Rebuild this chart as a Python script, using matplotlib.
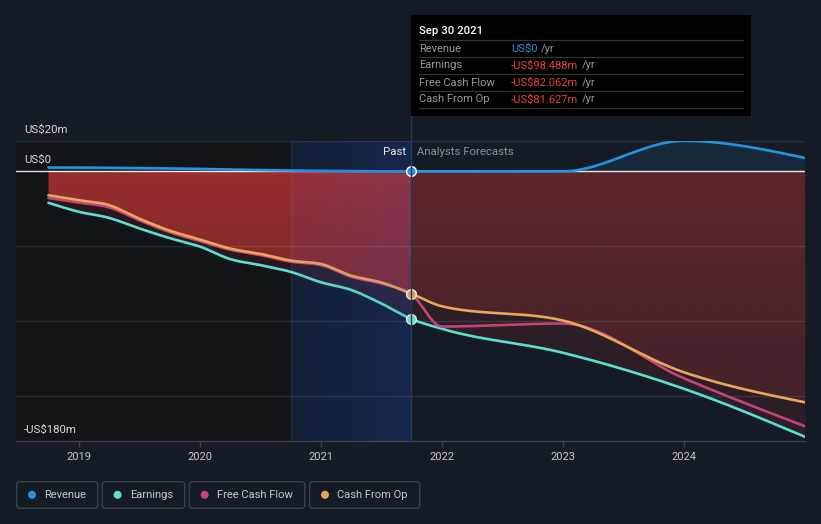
import numpy as np
import pandas as pd
import matplotlib
matplotlib.use("Agg")
import matplotlib.pyplot as plt
from matplotlib.patches import Rectangle, FancyBboxPatch, Circle
from matplotlib.lines import Line2D
import matplotlib.transforms as mtransforms

plt.rcParams['font.family'] = ['Roboto', 'DejaVu Sans']

# ---------------- data ----------------
past_dates = ["2018-09-30", "2018-12-31", "2019-03-31", "2019-06-30", "2019-09-30",
              "2019-12-31", "2020-03-31", "2020-06-30", "2020-09-30", "2020-12-31",
              "2021-03-31", "2021-06-30", "2021-09-30"]
fc_dates = ["2021-12-31", "2022-12-31", "2023-12-31", "2024-12-31"]

revenue_past = [2.5, 2.5, 2.3, 2.1, 1.9, 1.6, 1.2, 0.8, 0.5, 0.3, 0.1, 0.0, 0.0]
earnings_past = [-21.0, -27.0, -31.0, -38.0, -44.5, -50.2, -58.5, -62.5, -67.0, -74.0, -79.0, -88.0, -98.488]
fcf_past = [-17.8, -20.9, -24.0, -32.5, -40.5, -46.5, -52.2, -55.8, -60.2, -62.5, -70.2, -74.8, -82.062]
cfo_past = [-16.0, -19.3, -22.5, -31.5, -39.5, -45.5, -51.5, -55.0, -59.5, -61.8, -69.5, -74.0, -81.627]

revenue_fc = [0.0, 0.0, 20.3, 8.9]
earnings_fc = [-105.0, -121.0, -145.0, -177.0]
fcf_fc = [-103.5, -101.5, -138.0, -170.0]
cfo_fc = [-90.0, -99.5, -134.0, -154.0]

year_ticks = [2019, 2020, 2021, 2022, 2023, 2024]
y_labels = [(20, "US$20m"), (0, "US$0"), (-180, "-US$180m")]

tooltip_title = "Sep 30 2021"
tooltip_rows = [("Revenue", "US$0", "#2394df"),
                ("Earnings", "-US$98.488m", "#e8403f"),
                ("Free Cash Flow", "-US$82.062m", "#e8403f"),
                ("Cash From Op", "-US$81.627m", "#e8403f")]
legend_names = ["Revenue", "Earnings", "Free Cash Flow", "Cash From Op"]

# ---------------- helpers ----------------
def dec_year(ds):
    d = pd.to_datetime(ds)
    start = pd.to_datetime(d.year.astype(str) + "-01-01")
    days = np.where(d.is_leap_year, 366.0, 365.0)
    return np.asarray(d.year + (d - start).days / days, dtype=float)

def monotone(x, y, n=40):
    """d3 curveMonotoneX style rendering of the given points."""
    x = np.asarray(x, float); y = np.asarray(y, float)
    k = len(x)
    h = np.diff(x); s = np.diff(y) / h
    t = np.zeros(k)
    for i in range(1, k - 1):
        p = (s[i - 1] * h[i] + s[i] * h[i - 1]) / (h[i - 1] + h[i])
        t[i] = (np.sign(s[i - 1]) + np.sign(s[i])) * min(abs(s[i - 1]), abs(s[i]), 0.5 * abs(p))
    t[0] = (3 * s[0] - t[1]) / 2 if k > 2 else s[0]
    t[-1] = (3 * s[-1] - t[-2]) / 2 if k > 2 else s[-1]
    xs, ys = [], []
    for i in range(k - 1):
        u = np.linspace(0, 1, n, endpoint=(i == k - 2))
        h00 = 2 * u**3 - 3 * u**2 + 1
        h10 = u**3 - 2 * u**2 + u
        h01 = -2 * u**3 + 3 * u**2
        h11 = u**3 - u**2
        xs.append(x[i] + u * h[i])
        ys.append(h00 * y[i] + h10 * h[i] * t[i] + h01 * y[i + 1] + h11 * h[i] * t[i + 1])
    return np.concatenate(xs), np.concatenate(ys)

tp = dec_year(past_dates)
tf = dec_year(fc_dates)
t_all = np.concatenate([tp, tf])
t_now = tp[-1]

xr, rev_s = monotone(t_all, revenue_past + revenue_fc)
xe, earn_s = monotone(t_all, earnings_past + earnings_fc)
xf, fcf_s = monotone(t_all, fcf_past + fcf_fc)
xc, cfo_s = monotone(t_all, cfo_past + cfo_fc)

# ---------------- figure ----------------
BG = "#151b24"
DARK = "#111418"
REV = "#2394df"
EARN = "#5be0cd"
FCF = "#c6427f"
CFO = "#e9a857"

fig = plt.figure(figsize=(8.21, 5.24), dpi=100, facecolor=BG)
W, H = 821.0, 524.0
ax_l, ax_r, ax_t, ax_b = 16, 805, 141.3, 441.3
ax = fig.add_axes([ax_l / W, (H - ax_b) / H, (ax_r - ax_l) / W, (ax_b - ax_t) / H])
ax.set_facecolor(BG)
x0 = 2019 - (79.3 - ax_l) / 121.0
x1 = 2019 + (ax_r - 79.3) / 121.0

# background regions
hl_start = tp[8]
ax.axvspan(x0, hl_start, color=DARK, zorder=0.1, lw=0)
hl_img = np.zeros((2, 200, 4))
hl_img[..., 0] = 12 / 255; hl_img[..., 1] = 40 / 255; hl_img[..., 2] = 92 / 255
hl_img[..., 3] = np.linspace(0.25, 0.5, 200)[None, :]
ax.imshow(hl_img, extent=[hl_start, t_now, -180, 20], aspect='auto', zorder=0.2,
          interpolation='bilinear')

# dark fill between 0 and earnings
ax.fill_between(xe, 0, earn_s, color=(230 / 255, 60 / 255, 60 / 255), alpha=0.11, lw=0, zorder=1)

# red gradient fill between 0 and CFO
nx, ny = 600, 300
gx = np.linspace(x0, x1, nx)
gy = np.linspace(20, -180, ny)
GX, GY = np.meshgrid(gx, gy)
alpha = np.where(GX <= t_now, 0.6 + 0.002 * GY, 0.27 + 0.0009 * GY)
alpha = np.clip(alpha, 0.05, 1)
img = np.zeros((ny, nx, 4))
img[..., 0] = 230 / 255; img[..., 1] = 60 / 255; img[..., 2] = 60 / 255
img[..., 3] = alpha
poly = ax.fill_between(xc, 0, cfo_s, facecolor='none', edgecolor='none')
im = ax.imshow(img, extent=[x0, x1, -180, 20], aspect='auto', zorder=1.2, interpolation='bilinear')
im.set_clip_path(poly.get_paths()[0], ax.transData)

# revenue positive fill
ax.fill_between(xr, 0, rev_s, where=rev_s > 0, color=REV, alpha=0.12, lw=0, zorder=1.3)

# grid lines
for g in [20, -50, -100, -150]:
    ax.axhline(g, color="white", alpha=0.1, lw=1, zorder=1.5)
ax.axhline(0, color="white", alpha=0.9, lw=1, zorder=1.6)

# lines
lw = 1.9
ax.plot(xe, earn_s, color=EARN, lw=lw, zorder=3, solid_capstyle='round')
ax.plot(xc, cfo_s, color=CFO, lw=lw, zorder=3.1, solid_capstyle='round')
ax.plot(xf, fcf_s, color=FCF, lw=lw, zorder=3.05, solid_capstyle='round')
ax.plot(xr, rev_s, color=REV, lw=lw, zorder=3.2, solid_capstyle='round')

# top tint over the past-year highlight (mutes lines, makes red purplish)
tint = np.zeros((2, 200, 4))
tint[..., 0] = 70 / 255; tint[..., 1] = 80 / 255; tint[..., 2] = 170 / 255
tint[..., 3] = np.linspace(0.03, 0.13, 200)[None, :]
ax.imshow(tint, extent=[hl_start, t_now, -180, 20], aspect='auto', zorder=3.5,
          interpolation='bilinear')
ax.axvline(hl_start, color="white", alpha=0.05, lw=1, zorder=3.6)

# markers at now
ax.plot([t_now], [revenue_past[-1]], 'o', ms=7, mfc=REV, mec="white", mew=1, zorder=5)
ax.plot([t_now], [cfo_past[-1]], 'o', ms=7, mfc="#d7a466", mec="#e8e8e8", mew=1, zorder=5)
ax.plot([t_now], [earnings_past[-1]], 'o', ms=7, mfc=EARN, mec="#e8e8e8", mew=1, zorder=5)

ax.set_xlim(x0, x1)
ax.set_ylim(-180, 20)

# axes styling
for sp in ["top", "left", "right"]:
    ax.spines[sp].set_visible(False)
ax.spines["bottom"].set_color("#3c424b")
ax.spines["bottom"].set_linewidth(1)
ax.set_yticks([])
ax.set_xticks(year_ticks)
ax.set_xticklabels([str(y) for y in year_ticks])
ax.tick_params(axis='x', colors="#3c424b", length=4, width=1, pad=4, labelcolor="#c8c8c8",
               labelsize=8)

# y labels
off = mtransforms.offset_copy(ax.transData, fig=fig, x=0, y=6, units='dots')
blend = mtransforms.blended_transform_factory(ax.transAxes, off)
for val, lab in y_labels:
    ax.text((24 - ax_l) / (ax_r - ax_l), val, lab, transform=blend, color="#d8d8d8",
            fontsize=8.2, ha='left', va='bottom', zorder=6)

# Past / Analysts Forecasts
ax.text(t_now, 13, "Past  ", color="#e8e8e8", fontsize=8.2, ha='right', va='center', zorder=6)
ax.text(t_now, 13, "  Analysts Forecasts", color="#8d9298", fontsize=8.2, ha='left', va='center', zorder=6)

# ---------------- overlay (pixel coords) ----------------
ov = fig.add_axes([0, 0, 1, 1], zorder=10)
ov.set_xlim(0, W)
ov.set_ylim(H, 0)
ov.axis('off')
ov.patch.set_visible(False)

# vertical now line
ov.add_line(Line2D([411.3, 411.3], [116, ax_b], color="#24395a", lw=1, zorder=1))

# tooltip
ov.add_patch(Rectangle((411, 15), 340, 101, facecolor="black", edgecolor="none", zorder=2))
ov.text(419, 31.5, tooltip_title, color="white", fontsize=8.2, ha='left', va='center',
        fontweight='medium', zorder=3)
for yy in [40.3, 57.3, 74.3, 91.3, 108.3]:
    ov.add_line(Line2D([419, 743], [yy, yy], color="#333333", lw=0.9, zorder=3))
renderer = fig.canvas.get_renderer()
for i, (lab, val, col) in enumerate(tooltip_rows):
    yy = 48.5 + 17 * i
    ov.text(419, yy, lab, color="#9a9a9a", fontsize=8, ha='left', va='center', zorder=3)
    tv = ov.text(511, yy, val, color=col, fontsize=8, ha='left', va='center', zorder=3)
    bb = tv.get_window_extent(renderer=renderer)
    ov.text(bb.x1 + 3.5, yy, "/yr", color="#9a9a9a", fontsize=8, ha='left', va='center', zorder=3)

# legend
boxes = [(16.7, 97.7), (102.3, 184.7), (189.3, 304.7), (309.7, 419.7)]
colors = [REV, EARN, FCF, CFO]
for (bx0, bx1), name, c in zip(boxes, legend_names, colors):
    ov.add_patch(FancyBboxPatch((bx0, 481.7), bx1 - bx0, 26.6,
                                boxstyle="round,pad=0,rounding_size=3",
                                facecolor="none", edgecolor="#3b414b", lw=1))
    ov.add_patch(Circle((bx0 + 15.3, 494.8), 4.0, facecolor=c, edgecolor="none"))
    ov.text(bx0 + 27.6, 495, name, color="#c8c8c8", fontsize=8, ha='left', va='center')

fig.savefig("out.png", dpi=100, facecolor=BG)
